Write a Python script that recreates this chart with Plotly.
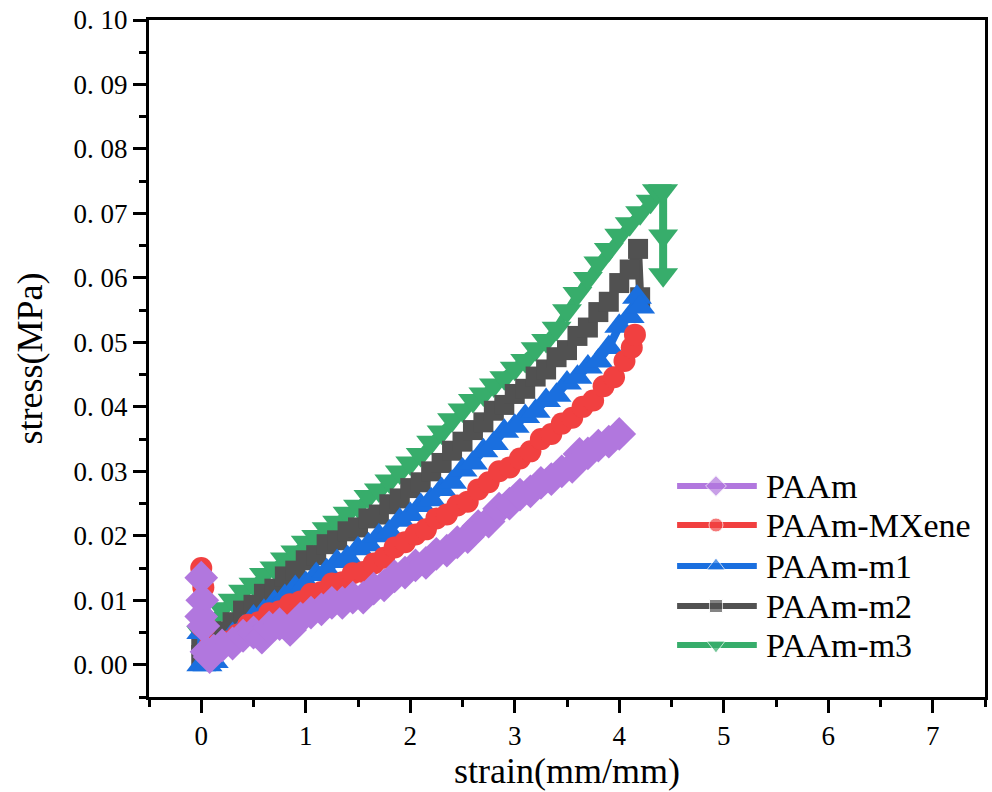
import plotly.graph_objects as go

# ---------------- data ----------------
names = ["PAAm", "PAAm-MXene", "PAAm-m1", "PAAm-m2", "PAAm-m3"]

paam_x = [0.00, 0.00, 0.01, 0.02, 0.05, 0.08, 0.12, 0.20, 0.30, 0.40, 0.50, 0.58, 0.65, 0.75, 0.85, 0.95,
          1.05, 1.15, 1.25, 1.35, 1.45, 1.55, 1.65, 1.75, 1.85, 1.95, 2.05, 2.15, 2.25, 2.35, 2.45, 2.55,
          2.65, 2.75, 2.85, 2.95, 3.05, 3.15, 3.25, 3.35, 3.45, 3.55, 3.62, 3.70, 3.80, 3.90, 4.00]
paam_y = [0.0075, 0.0135, 0.0100, 0.0060, 0.0020, 0.0012, 0.0022, 0.0030, 0.0033, 0.0045, 0.0050, 0.0042,
          0.0058, 0.0063, 0.0054, 0.0072, 0.0081, 0.0086, 0.0096, 0.0096, 0.0104, 0.0104, 0.0118, 0.0123,
          0.0137, 0.0143, 0.0154, 0.0158, 0.0172, 0.0177, 0.0190, 0.0198, 0.0215, 0.0222, 0.0242, 0.0250,
          0.0264, 0.0269, 0.0282, 0.0288, 0.0300, 0.0307, 0.0327, 0.0328, 0.0340, 0.0346, 0.0358]

mx_x = [0.00, 0.00, 0.02, 0.04, 0.08, 0.15, 0.25, 0.35, 0.45, 0.55, 0.65, 0.75, 0.85, 0.95, 1.05, 1.15,
        1.25, 1.35, 1.45, 1.55, 1.65, 1.75, 1.85, 1.95, 2.05, 2.15, 2.25, 2.35, 2.45, 2.55, 2.65, 2.75,
        2.85, 2.95, 3.05, 3.15, 3.25, 3.35, 3.45, 3.55, 3.65, 3.75, 3.85, 3.95, 4.05, 4.12, 4.15]
mx_y = [0.0060, 0.0150, 0.0120, 0.0060, 0.0030, 0.0026, 0.0036, 0.0047, 0.0062, 0.0066, 0.0080, 0.0083,
        0.0094, 0.0098, 0.0110, 0.0113, 0.0126, 0.0128, 0.0142, 0.0144, 0.0157, 0.0166, 0.0182, 0.0190,
        0.0202, 0.0210, 0.0227, 0.0233, 0.0247, 0.0253, 0.0272, 0.0283, 0.0300, 0.0306, 0.0320, 0.0331,
        0.0350, 0.0358, 0.0374, 0.0383, 0.0400, 0.0410, 0.0432, 0.0446, 0.0471, 0.0492, 0.0512]

m1_x = [0.00, 0.00, 0.06, 0.12, 0.20, 0.30, 0.40, 0.50, 0.60, 0.70, 0.80, 0.90, 1.00, 1.10, 1.20, 1.30,
        1.40, 1.50, 1.60, 1.70, 1.80, 1.90, 2.00, 2.10, 2.20, 2.30, 2.40, 2.50, 2.60, 2.70, 2.80, 2.90,
        3.00, 3.10, 3.20, 3.30, 3.40, 3.50, 3.60, 3.70, 3.80, 3.90, 4.00, 4.10, 4.17, 4.20]
m1_y = [0.0050, 0.0000, 0.0000, 0.0005, 0.0030, 0.0047, 0.0058, 0.0074, 0.0083, 0.0097, 0.0106, 0.0120,
        0.0126, 0.0140, 0.0146, 0.0160, 0.0166, 0.0180, 0.0186, 0.0200, 0.0206, 0.0224, 0.0233, 0.0247,
        0.0256, 0.0272, 0.0283, 0.0302, 0.0313, 0.0332, 0.0343, 0.0362, 0.0370, 0.0385, 0.0393, 0.0410,
        0.0418, 0.0437, 0.0446, 0.0462, 0.0471, 0.0492, 0.0525, 0.0540, 0.0570, 0.0555]

m2_x = [0.00, 0.00, 0.05, 0.10, 0.20, 0.30, 0.40, 0.50, 0.60, 0.70, 0.80, 0.90, 1.00, 1.10, 1.20, 1.30,
        1.40, 1.50, 1.60, 1.70, 1.80, 1.90, 2.00, 2.10, 2.20, 2.30, 2.40, 2.50, 2.60, 2.70, 2.80, 2.90,
        3.00, 3.10, 3.20, 3.30, 3.40, 3.50, 3.60, 3.70, 3.80, 3.90, 4.00, 4.10, 4.18, 4.20]
m2_y = [0.0035, 0.0015, 0.0020, 0.0030, 0.0052, 0.0066, 0.0084, 0.0093, 0.0110, 0.0118, 0.0137, 0.0146,
        0.0162, 0.0170, 0.0187, 0.0193, 0.0207, 0.0213, 0.0227, 0.0233, 0.0249, 0.0258, 0.0274, 0.0283,
        0.0300, 0.0313, 0.0332, 0.0346, 0.0364, 0.0376, 0.0394, 0.0403, 0.0420, 0.0428, 0.0447, 0.0458,
        0.0477, 0.0488, 0.0510, 0.0523, 0.0547, 0.0563, 0.0592, 0.0613, 0.0645, 0.0570]

m3_x = [0.00, 0.03, 0.07, 0.10, 0.20, 0.30, 0.40, 0.50, 0.60, 0.70, 0.80, 0.90, 1.00, 1.10, 1.20, 1.30,
        1.40, 1.50, 1.60, 1.70, 1.80, 1.90, 2.00, 2.10, 2.20, 2.30, 2.40, 2.50, 2.60, 2.70, 2.80, 2.90,
        3.00, 3.10, 3.20, 3.30, 3.40, 3.50, 3.60, 3.70, 3.80, 3.90, 4.00, 4.10, 4.20, 4.30, 4.36, 4.42,
        4.42, 4.42]
m3_y = [0.0050, 0.0035, 0.0040, 0.0068, 0.0087, 0.0100, 0.0114, 0.0125, 0.0140, 0.0150, 0.0164, 0.0175,
        0.0190, 0.0199, 0.0211, 0.0221, 0.0235, 0.0246, 0.0261, 0.0271, 0.0285, 0.0299, 0.0313, 0.0326,
        0.0345, 0.0361, 0.0380, 0.0395, 0.0410, 0.0420, 0.0434, 0.0445, 0.0460, 0.0472, 0.0490, 0.0503,
        0.0522, 0.0549, 0.0576, 0.0599, 0.0623, 0.0644, 0.0666, 0.0684, 0.0701, 0.0719, 0.0735, 0.0735,
        0.0665, 0.0605]

series_x = [paam_x, mx_x, m1_x, m2_x, m3_x]
series_y = [paam_y, mx_y, m1_y, m2_y, m3_y]

x_ticks = [0, 1, 2, 3, 4, 5, 6, 7]
y_ticks = [0.00, 0.01, 0.02, 0.03, 0.04, 0.05, 0.06, 0.07, 0.08, 0.09, 0.10]
y_ticktext = ["0. 00", "0. 01", "0. 02", "0. 03", "0. 04", "0. 05", "0. 06", "0. 07", "0. 08", "0. 09", "0. 10"]

# ---------------- styles ----------------
colors = ["#B177DE", "#F14040", "#1A6FDF", "#515151", "#37AD6B"]
symbols = ["diamond", "circle", "triangle-up", "square", "triangle-down"]
msizes = [26, 22, 26, 20, 26]
leg_sizes = [16, 14, 16, 13, 16]
FONT = "Liberation Serif, Times New Roman, serif"

fig = go.Figure()

# draw last-listed series first so PAAm ends on top
for i in reversed(range(len(names))):
    fig.add_trace(go.Scatter(
        x=series_x[i], y=series_y[i], mode="lines+markers", name=names[i],
        line=dict(color=colors[i], width=8),
        marker=dict(symbol=symbols[i], size=msizes[i], color=colors[i]),
        showlegend=False, cliponaxis=False,
    ))

# ---------------- custom legend (overlay axis in plot-area fractions) ----------------
PL, PR, PT, PB = 149, 988, 20, 697  # plot area in pixels


def px2x(px):
    return (px - PL) / (PR - PL)


def py2y(py):
    return (PB - py) / (PB - PT)


row_py = [486, 525, 566, 606, 645]
for i in range(len(names)):
    yy = py2y(row_py[i])
    fig.add_trace(go.Scatter(
        x=[px2x(679), px2x(718), px2x(759)], y=[yy, yy, yy],
        xaxis="x2", yaxis="y2", mode="lines+markers",
        line=dict(color=colors[i], width=6),
        marker=dict(symbol=symbols[i], size=[0, leg_sizes[i], 0], color=colors[i]),
        showlegend=False, hoverinfo="skip",
    ))
    fig.add_annotation(
        xref="paper", yref="paper", x=px2x(766), y=yy, text=names[i],
        showarrow=False, xanchor="left", yanchor="middle",
        font=dict(family=FONT, size=34, color="black"),
    )

axis_common = dict(
    showgrid=False, zeroline=False, showline=True, linecolor="black", linewidth=3,
    mirror=True, ticks="outside", ticklen=13, tickwidth=3, tickcolor="black",
    tickfont=dict(family=FONT, size=27, color="black"),
)

fig.update_layout(
    width=992, height=792,
    margin=dict(l=PL, r=992 - PR, t=PT, b=792 - PB),
    paper_bgcolor="white", plot_bgcolor="white",
    showlegend=False,
    xaxis=dict(
        range=[-0.5, 7.5], tickvals=x_ticks, ticktext=[str(v) for v in x_ticks],
        minor=dict(dtick=0.5, tick0=0, ticks="outside", ticklen=7, tickwidth=3, tickcolor="black", showgrid=False),
        title=dict(text="strain(mm/mm)", font=dict(family=FONT, size=36, color="black"), standoff=8),
        **axis_common,
    ),
    yaxis=dict(
        range=[-0.005, 0.10], tickvals=y_ticks, ticktext=y_ticktext,
        minor=dict(dtick=0.005, tick0=0, ticks="outside", ticklen=7, tickwidth=3, tickcolor="black", showgrid=False),
        title=dict(text="stress(MPa)", font=dict(family=FONT, size=36, color="black"), standoff=20),
        **axis_common,
    ),
    xaxis2=dict(range=[0, 1], overlaying="x", visible=False, fixedrange=True),
    yaxis2=dict(range=[0, 1], overlaying="y", visible=False, fixedrange=True),
)

fig.write_html("out.html")
